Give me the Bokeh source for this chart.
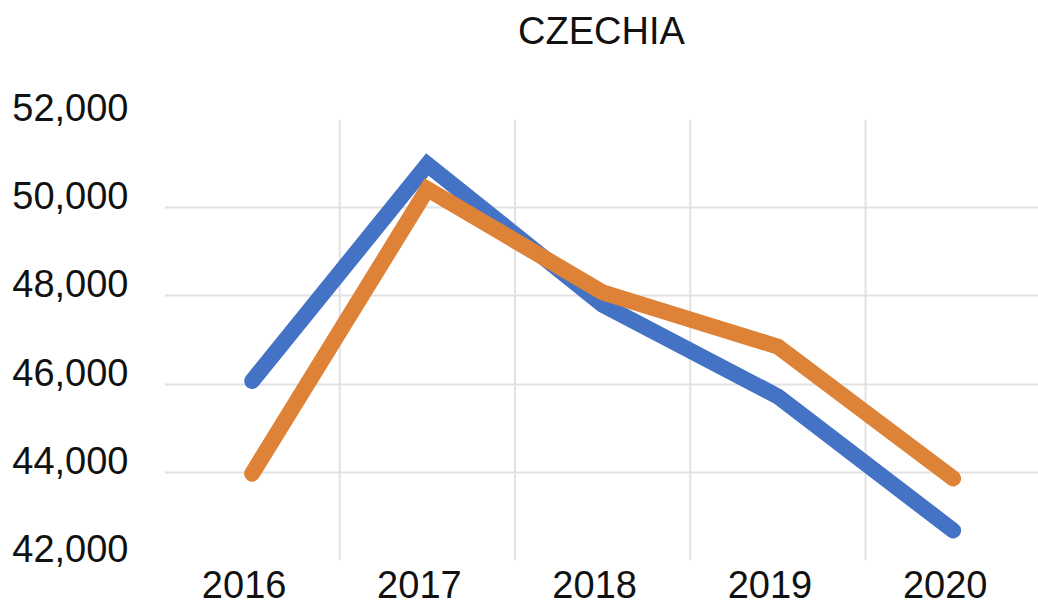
from bokeh.plotting import figure
from bokeh.models import (Range1d, FixedTicker, ColumnDataSource, LinearAxis,
                          NumeralTickFormatter)
from bokeh.embed import file_html
from bokeh.resources import INLINE

title_text = "CZECHIA"
years = ["2016", "2017", "2018", "2019", "2020"]
series_blue = [46070, 50980, 47800, 45720, 42680]
series_orange = [43970, 50420, 48080, 46850, 43860]
y_ticks = [42000, 44000, 46000, 48000, 50000, 52000]
y_grid = [44000, 46000, 48000, 50000]

x_pos = list(range(len(years)))
src = ColumnDataSource(dict(x=x_pos, blue=series_blue, orange=series_orange))

FONT = "Liberation Sans"
FW, FH0 = 874, 441          # frame width, height of the 42k..52k span
LAB_UP = 12                 # tick labels sit this many px above their ticks
Y0, Y1 = y_ticks[0], y_ticks[-1]
px_y = (Y1 - Y0) / FH0
X0, X1 = -0.5, 4.487
px_x = (X1 - X0) / FW

p = figure(
    frame_width=FW, frame_height=FH0 + LAB_UP,
    x_range=Range1d(X0, X1),
    y_range=Range1d(Y0, Y1 + LAB_UP * px_y),
    output_backend="svg", toolbar_location=None,
    min_border_left=164, min_border_right=0, min_border_top=119 - LAB_UP,
    min_border_bottom=48,
    x_axis_location=None, y_axis_location=None,
)
p.outline_line_color = None
p.background_fill_color = "white"
p.border_fill_color = "white"

# chart title, drawn as the label of a tick-less axis above the frame
top_axis = LinearAxis(ticker=FixedTicker(ticks=[]), axis_line_color=None,
                      major_tick_line_color=None, minor_tick_line_color=None,
                      major_tick_in=0, major_tick_out=0,
                      axis_label=title_text, axis_label_standoff=56,
                      axis_label_text_font=FONT, axis_label_text_font_size="38px",
                      axis_label_text_font_style="normal",
                      axis_label_text_color="#111111")
p.add_layout(top_axis, "above")

# horizontal grid
p.xgrid.visible = False
p.ygrid.ticker = FixedTicker(ticks=y_grid)
p.ygrid.grid_line_color = "#E2E2E2"
p.ygrid.grid_line_width = 2

# vertical grid lines between the categories, spanning the value axis
bounds = [x + 0.5 for x in x_pos[:-1]]
p.segment(x0=bounds, y0=[Y0] * len(bounds), x1=bounds, y1=[Y1] * len(bounds),
          line_color="#E2E2E2", line_width=2)

p.line("x", "blue", source=src, line_color="#4472C4", line_width=16,
       line_cap="round", line_join="miter")
p.line("x", "orange", source=src, line_color="#DD8237", line_width=16,
       line_cap="round", line_join="miter")

# label axes: reference sets year labels slightly left, value labels slightly up
p.extra_x_ranges = {"xlab": Range1d(X0 + 8 * px_x, X1 + 8 * px_x)}
p.extra_y_ranges = {"ylab": Range1d(Y0 - LAB_UP * px_y, Y1)}
xaxis = LinearAxis(x_range_name="xlab", ticker=FixedTicker(ticks=x_pos))
xaxis.major_label_overrides = {i: y for i, y in zip(x_pos, years)}
yaxis = LinearAxis(y_range_name="ylab", ticker=FixedTicker(ticks=y_ticks),
                   formatter=NumeralTickFormatter(format="0,0"))
for ax in (xaxis, yaxis):
    ax.axis_line_color = None
    ax.major_tick_line_color = None
    ax.minor_tick_line_color = None
    ax.major_tick_out = 0
    ax.major_tick_in = 0
    ax.major_label_text_font = FONT
    ax.major_label_text_font_size = "38px"
    ax.major_label_text_color = "#111111"
xaxis.major_label_standoff = 10
yaxis.major_label_standoff = 36
p.add_layout(xaxis, "below")
p.add_layout(yaxis, "left")

open("out.html", "w").write(file_html(p, INLINE))
